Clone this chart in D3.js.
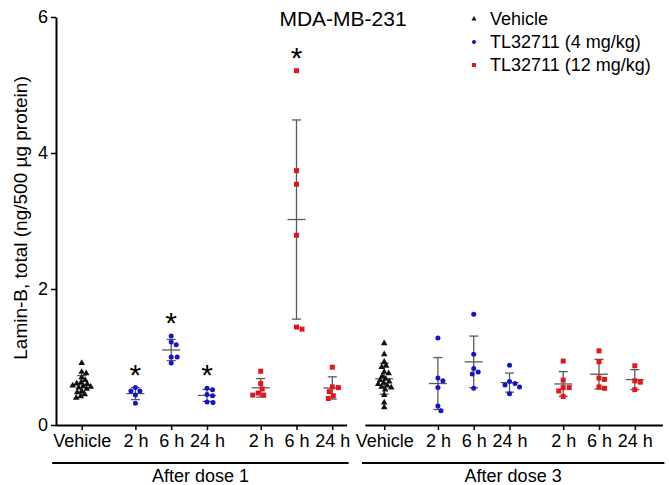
<!DOCTYPE html>
<html>
<head>
<meta charset="utf-8">
<script src="https://cdn.jsdelivr.net/npm/d3@7/dist/d3.min.js"></script>
<style>
  html, body { margin: 0; padding: 0; background: #fff; }
  svg { display: block; font-family: "Liberation Sans", Arial, sans-serif; }
</style>
</head>
<body>
<svg id="chart" width="669" height="485"></svg>
<script>
// ---- data ----
const title = "MDA-MB-231";
const yLabel = "Lamin-B, total (ng/500 \u00B5g protein)";
const yTicks = [0, 2, 4, 6];
const treatments = ["Vehicle", "TL32711 (4 mg/kg)", "TL32711 (12 mg/kg)"];
const categories = ["Vehicle", "2 h", "6 h", "24 h", "2 h", "6 h", "24 h"];
const categoryTreatment = [0, 1, 1, 1, 2, 2, 2];
const doses = ["After dose 1", "After dose 3"];

// Lamin-B per animal, one array per category, after dose 1
const dose1Values = [
  [0.91, 0.78, 0.76, 0.70, 0.66, 0.63, 0.61, 0.60, 0.58, 0.57, 0.56, 0.55, 0.53, 0.50, 0.48, 0.45, 0.42, 0.40],
  [0.55, 0.50, 0.50, 0.44, 0.32],
  [1.31, 1.22, 1.18, 1.00, 1.00, 0.91],
  [0.54, 0.52, 0.45, 0.43, 0.34, 0.33],
  [0.79, 0.61, 0.53, 0.47, 0.44, 0.44],
  [5.21, 3.74, 3.54, 2.79, 1.44, 1.41],
  [0.85, 0.56, 0.55, 0.49, 0.43, 0.39]
];
// after dose 3
const dose3Values = [
  [1.20, 1.04, 0.93, 0.87, 0.85, 0.78, 0.76, 0.72, 0.68, 0.66, 0.64, 0.62, 0.60, 0.58, 0.56, 0.55, 0.52, 0.44, 0.33, 0.26],
  [1.28, 0.69, 0.65, 0.55, 0.28, 0.21],
  [1.63, 1.04, 0.83, 0.78, 0.75, 0.54],
  [0.88, 0.64, 0.61, 0.59, 0.56, 0.46],
  [0.94, 0.66, 0.55, 0.55, 0.50, 0.42],
  [1.09, 0.93, 0.69, 0.67, 0.56, 0.54],
  [0.87, 0.65, 0.63, 0.52]
];
// significance flags (asterisk above the group)
const dose1Significant = [false, true, true, true, false, true, false];
const dose3Significant = [false, false, false, false, false, false, false];

// ---- layout ----
const colors = ["#111111", "#1414c8", "#e3161c"];
const FONT = 18;
const svg = d3.select("#chart");

const y = d3.scaleLinear().domain([0, 6]).range([425, 17]);
// slot positions along the x axis (units of one category step)
const slotsInGroup = [0, 1.5, 2.5, 3.5, 5, 6, 7];
const groupShift = 8.45;
const x = d3.scaleLinear().domain([0, 1]).range([81.7, 81.7 + 35.8]);
const groupExtent = [[-0.74, 7.4], [7.91, 16.22]];

// ---- y axis ----
const yAxis = svg.append("g")
  .attr("transform", "translate(56,0)")
  .call(d3.axisLeft(y).tickValues(yTicks).tickFormat(d3.format("d")).tickSize(5).tickSizeOuter(0).tickPadding(3));
yAxis.select(".domain").attr("stroke", "#000").attr("stroke-width", 2);
yAxis.selectAll(".tick line").attr("stroke", "#000").attr("stroke-width", 1.5);
yAxis.selectAll(".tick text").attr("font-size", FONT).attr("fill", "#000")
  .attr("font-family", "'Liberation Sans', Arial, sans-serif");

svg.append("text")
  .attr("transform", "translate(27,218) rotate(-90)")
  .attr("text-anchor", "middle")
  .attr("font-size", 19)
  .text(yLabel);

// ---- title ----
svg.append("text").attr("x", 343).attr("y", 26).attr("text-anchor", "middle")
  .attr("font-size", 21).text(title);

// ---- x axes, one per dose ----
doses.forEach((dose, g) => {
  const [lo, hi] = groupExtent[g];
  const pos = slotsInGroup.map(s => s + g * groupShift);
  const xg = d3.scaleLinear().domain([lo, hi]).range([x(lo), x(hi)]);
  const ax = svg.append("g").attr("transform", "translate(0,425)")
    .call(d3.axisBottom(xg).tickValues(pos).tickFormat((d, i) => categories[i])
      .tickSize(5).tickSizeOuter(0).tickPadding(4.5));
  ax.select(".domain").attr("stroke", "#000").attr("stroke-width", 2);
  ax.selectAll(".tick line").attr("stroke", "#000").attr("stroke-width", 1.5);
  ax.selectAll(".tick text").attr("font-size", FONT).attr("fill", "#000")
    .attr("font-family", "'Liberation Sans', Arial, sans-serif");

  // bracket under the group and its label
  const bx0 = x(lo) - 3, bx1 = x(hi) + 2;
  svg.append("line").attr("x1", bx0).attr("x2", bx1).attr("y1", 463).attr("y2", 463)
    .attr("stroke", "#000").attr("stroke-width", 2);
  svg.append("text").attr("x", (bx0 + bx1) / 2).attr("y", 482).attr("text-anchor", "middle")
    .attr("font-size", FONT).text(dose);
});

// ---- markers ----
const triangle = d3.symbol().type(d3.symbolTriangle);
function drawMarker(sel, t, cx, cy, size) {
  if (t === 0) {
    sel.append("path").attr("d", triangle.size(size * size * 0.45)())
      .attr("transform", `translate(${cx},${cy})`).attr("fill", colors[0]);
  } else if (t === 1) {
    sel.append("circle").attr("cx", cx).attr("cy", cy).attr("r", size / 2).attr("fill", colors[1]);
  } else {
    sel.append("rect").attr("x", cx - size / 2).attr("y", cy - size / 2)
      .attr("width", size).attr("height", size).attr("fill", colors[2]);
  }
}

// simple beeswarm: each point takes the smallest horizontal offset that clears the points already placed
function swarm(values, cx, d) {
  const pts = values.map(v => ({ v, py: y(v) })).sort((a, b) => a.py - b.py);
  const placed = [];
  pts.forEach(p => {
    for (let k = 0; k < 60; k += 0.5) {
      const cands = k === 0 ? [0] : [k, -k];
      let found = null;
      for (const off of cands) {
        const px = cx + off;
        const ok = placed.every(q => (px - q.px) ** 2 + (p.py - q.py) ** 2 >= d * d);
        if (ok) { found = px; break; }
      }
      if (found !== null) { p.px = found; break; }
    }
    placed.push(p);
  });
  return placed;
}

const plot = svg.append("g");
[dose1Values, dose3Values].forEach((groups, g) => {
  const sig = g === 0 ? dose1Significant : dose3Significant;
  groups.forEach((vals, i) => {
    const t = categoryTreatment[i];
    const cx = x(slotsInGroup[i] + g * groupShift);
    const mean = d3.mean(vals);
    const sd = d3.deviation(vals);

    // mean +/- SD
    const eb = plot.append("g").attr("stroke", "#5a5a5a").attr("stroke-width", 1.3);
    eb.append("line").attr("x1", cx).attr("x2", cx).attr("y1", y(mean - sd)).attr("y2", y(mean + sd));
    eb.append("line").attr("x1", cx - 9).attr("x2", cx + 9).attr("y1", y(mean)).attr("y2", y(mean));
    [mean - sd, mean + sd].forEach(v =>
      eb.append("line").attr("x1", cx - 4.5).attr("x2", cx + 4.5).attr("y1", y(v)).attr("y2", y(v)));

    swarm(vals, cx, t === 0 ? 4.4 : 5.6).forEach(p => drawMarker(plot, t, p.px, p.py, t === 0 ? 6.5 : 5));

    if (sig[i]) {
      plot.append("text").attr("x", cx).attr("y", y(d3.max(vals)) - 3)
        .attr("text-anchor", "middle").attr("font-size", 30).text("*");
    }
  });
});

// ---- legend ----
const legend = svg.append("g");
treatments.forEach((name, i) => {
  const cy = 19 + i * 23;
  drawMarker(legend, i, 474, cy, i === 0 ? 5 : 4);
  legend.append("text").attr("x", 490).attr("y", cy + 6).attr("font-size", FONT).text(name);
});
</script>
</body>
</html>
